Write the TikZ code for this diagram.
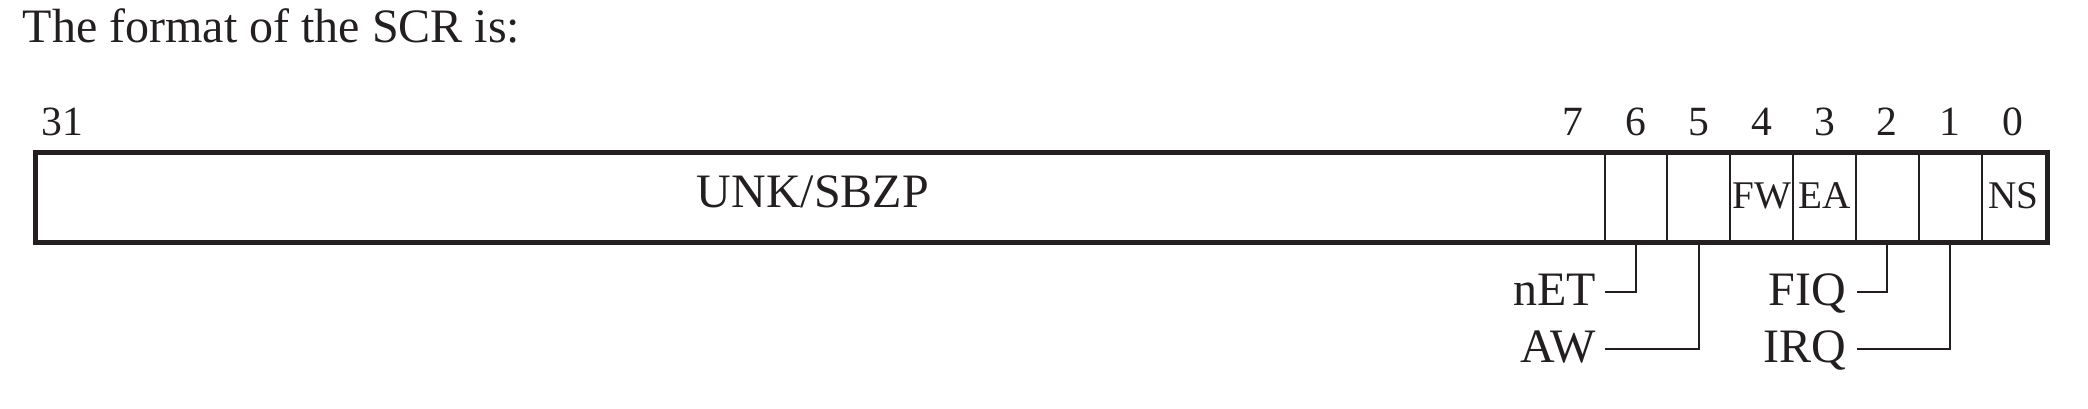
\documentclass[tikz,border=0pt]{standalone}
\usepackage{fontspec}
\setmainfont{Liberation Serif}
\usetikzlibrary{calc}
\definecolor{ink}{HTML}{231F20}
\begin{document}
\begin{tikzpicture}[x=0.25pt,y=-0.25pt,
  every node/.style={text=ink},
  bitnum/.style={font=\fontsize{10.4}{12}\selectfont, anchor=base, inner sep=0},
  lbl/.style={font=\fontsize{12}{14}\selectfont, anchor=base east, inner sep=0},
  fieldlbl/.style={font=\fontsize{12}{14}\selectfont, anchor=base, inner sep=0},
  cellbl/.style={font=\fontsize{9.8}{12}\selectfont, anchor=base, inner sep=0},
  cellbox/.style={minimum width=15.7125pt, minimum height=22.425pt, inner sep=0, outer sep=0},
  frame/.style={draw=ink, line width=1.25pt},
  thinline/.style={draw=ink, line width=0.5pt}]
\useasboundingbox (0,0) rectangle (2088,408);

% title
\node[anchor=base west, inner sep=0, font=\fontsize{12}{14}\selectfont] (title) at (22,42) {The format of the SCR is:};

% register frame
\node[frame, rectangle, minimum width=502.875pt, minimum height=22.425pt, inner sep=0, anchor=north west] (reg) at (33,150) {};

% bit cells 0..6
\foreach \i in {0,...,6} {
  \node[cellbox] (c\i) at ({2044.5-(\i+0.5)*62.85},194.85) {};
}
% dividers
\foreach \i in {1,...,7} {
  \draw[thinline] ({2044.5-\i*62.85},150) -- ({2044.5-\i*62.85},239.7);
}

% bit numbers
\foreach \i in {0,...,7} {
  \node[bitnum] (b\i) at ({2044.5-(\i+0.5)*62.85},135.5) {\i};
}
\node[bitnum] (b31) at (62,135.5) {31};

% field labels
\node[fieldlbl] (unk) at (813,207) {UNK/SBZP};
\node[cellbl] (fw) at ($(c4.center)+(0,14)$) {FW};
\node[cellbl] (ea) at ($(c3.center)+(0,14)$) {EA};
\node[cellbl] (ns) at ($(c0.center)+(0,14)$) {NS};

% lower labels
\node[lbl] (net) at (1597,305) {nET};
\node[lbl] (aw)  at (1597,362) {AW};
\node[lbl] (fiq) at (1847,305) {FIQ};
\node[lbl] (irq) at (1847,362) {IRQ};

\path (net.base east) ++(8,-13) coordinate (net-e);
\path (aw.base east)  ++(8,-13) coordinate (aw-e);
\path (fiq.base east) ++(10,-13) coordinate (fiq-e);
\path (irq.base east) ++(10,-13) coordinate (irq-e);

\draw[thinline] (c6.south) |- (net-e);
\draw[thinline] (c5.south) |- (aw-e);
\draw[thinline] (c2.south) |- (fiq-e);
\draw[thinline] (c1.south) |- (irq-e);
\end{tikzpicture}
\end{document}
